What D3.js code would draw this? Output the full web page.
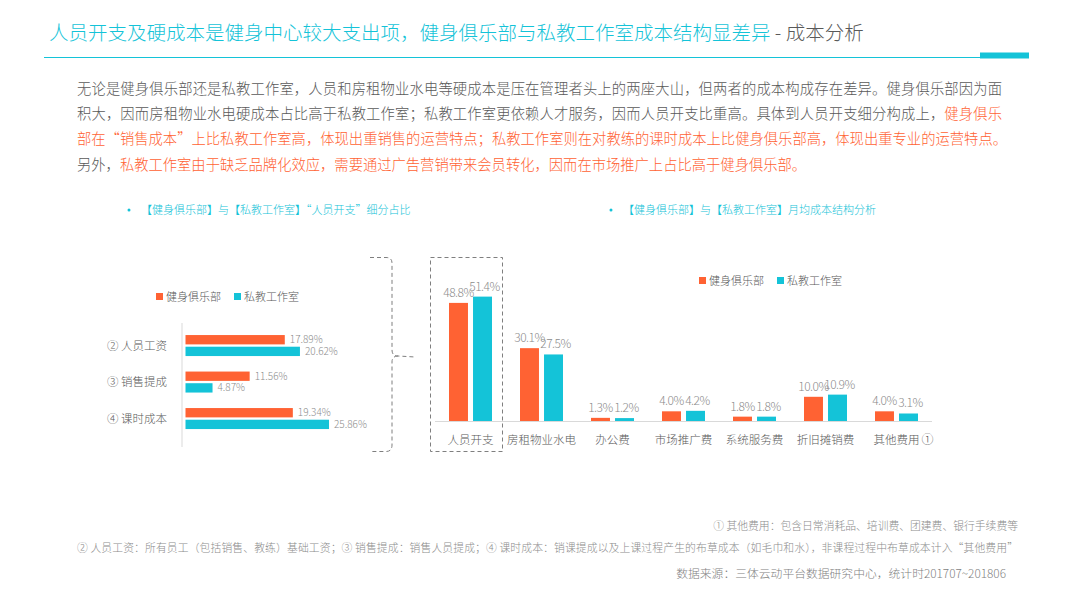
<!DOCTYPE html>
<html>
<head>
<meta charset="utf-8">
<script src="https://cdn.jsdelivr.net/npm/d3@7"></script>
<style>
  body { margin: 0; background: #fff; }
  svg { display: block; font-family: "Noto Sans CJK SC", "Noto Sans", sans-serif; font-weight: 300; }
</style>
</head>
<body>
<svg id="chart" width="1080" height="602"></svg>
<script>
// data
var seriesNames = ["健身俱乐部", "私教工作室"];
var staffCats = ["人员工资", "销售提成", "课时成本"];
var staffMarks = ["②", "③", "④"];
var clubStaff = [17.89, 11.56, 19.34];
var studioStaff = [20.62, 4.87, 25.86];

var costCats = ["人员开支", "房租物业水电", "办公费", "市场推广费", "系统服务费", "折旧摊销费", "其他费用"];
var clubCost = [48.8, 30.1, 1.3, 4.0, 1.8, 10.0, 4.0];
var studioCost = [51.4, 27.5, 1.2, 4.2, 1.8, 10.9, 3.1];

var ORANGE = "#ff6233", CYAN = "#14c3d8", GRAY = "#595959", LIGHT = "#8c8c8c";
var colors = [ORANGE, CYAN];

var svg = d3.select("#chart");

// ---- header
var title = svg.append("text").attr("x", 49).attr("y", 40).style("font-size", "19.5px");
title.append("tspan").attr("fill", CYAN)
  .text("人员开支及硬成本是健身中心较大支出项，健身俱乐部与私教工作室成本结构显差异");
title.append("tspan").attr("fill", GRAY).text(" - 成本分析");

svg.append("line").attr("x1", 44).attr("x2", 982).attr("y1", 57.5).attr("y2", 57.5)
  .attr("stroke", CYAN).attr("stroke-width", 1.2);
svg.append("rect").attr("x", 980).attr("y", 52.5).attr("width", 49).attr("height", 6).attr("fill", CYAN);

// ---- paragraph (each line: list of [text, highlighted])
var para = [
  [["无论是健身俱乐部还是私教工作室，人员和房租物业水电等硬成本是压在管理者头上的两座大山，但两者的成本构成存在差异。健身俱乐部因为面", 0]],
  [["积大，因而房租物业水电硬成本占比高于私教工作室；私教工作室更依赖人才服务，因而人员开支比重高。具体到人员开支细分构成上，", 0], ["健身俱乐", 1]],
  [["部在“销售成本”上比私教工作室高，体现出重销售的运营特点；私教工作室则在对教练的课时成本上比健身俱乐部高，体现出重专业的运营特点。", 1]],
  [["另外，", 0], ["私教工作室由于缺乏品牌化效应，需要通过广告营销带来会员转化，因而在市场推广上占比高于健身俱乐部。", 1]]
];
var lineLen = [925, 925, 930, null];
para.forEach(function(line, i) {
  var t = svg.append("text").attr("x", 77).attr("y", 94 + i * 25.2).style("font-size", "14.3px");
  if (lineLen[i]) t.attr("textLength", lineLen[i]).attr("lengthAdjust", "spacing");
  line.forEach(function(seg) {
    t.append("tspan").attr("fill", seg[1] ? ORANGE : GRAY).text(seg[0]);
  });
});

// ---- sub titles
function subTitle(x, txt) {
  svg.append("circle").attr("cx", x).attr("cy", 210).attr("r", 1.5).attr("fill", CYAN);
  svg.append("text").attr("x", x + 12).attr("y", 214).attr("fill", CYAN)
    .style("font-size", "11px").text(txt);
}
subTitle(129, "【健身俱乐部】与【私教工作室】“人员开支”细分占比");
subTitle(611, "【健身俱乐部】与【私教工作室】月均成本结构分析");

function legend(x, y, gap) {
  seriesNames.forEach(function(n, i) {
    var g = svg.append("g").attr("transform", "translate(" + (x + i * gap) + "," + y + ")");
    g.append("rect").attr("x", 0).attr("y", -4).attr("width", 7).attr("height", 7).attr("fill", colors[i]);
    g.append("text").attr("x", 10).attr("y", 4).attr("fill", GRAY).style("font-size", "11px").text(n);
  });
}

// ---- left chart: horizontal bars
var staffData = staffCats.map(function(c, i) {
  return { cat: c, mark: staffMarks[i], vals: [clubStaff[i], studioStaff[i]] };
});
var xL = d3.scaleLinear().domain([0, 30]).range([185.5, 352]);
var yL = d3.scaleBand().domain(staffCats).range([327.3, 436.8]);
var ySub = d3.scaleBand().domain(seriesNames).range([-10.5, 10.5]).paddingInner(0.2);

legend(156, 297, 78);

svg.append("line").attr("x1", 182).attr("x2", 182).attr("y1", 323).attr("y2", 447)
  .attr("stroke", "#d9d9d9");

var gL = svg.selectAll(".staff").data(staffData).enter().append("g")
  .attr("transform", function(d) { return "translate(0," + (yL(d.cat) + yL.bandwidth() / 2) + ")"; });

gL.append("text").attr("x", 167).attr("y", 4).attr("text-anchor", "end")
  .attr("fill", GRAY).style("font-size", "11.5px")
  .text(function(d) { return d.mark + "  " + d.cat; });

gL.selectAll("rect").data(function(d) { return d.vals; }).enter().append("rect")
  .attr("x", xL(0))
  .attr("y", function(v, i) { return ySub(seriesNames[i]); })
  .attr("height", ySub.bandwidth())
  .attr("width", function(v) { return xL(v) - xL(0); })
  .attr("fill", function(v, i) { return colors[i]; });

gL.selectAll(".val").data(function(d) { return d.vals; }).enter().append("text")
  .attr("x", function(v) { return xL(v) + 5; })
  .attr("y", function(v, i) { return ySub(seriesNames[i]) + ySub.bandwidth() / 2 + 3.5; })
  .attr("fill", LIGHT).style("font-size", "10px")
  .text(function(v) { return v.toFixed(2) + "%"; });

// ---- brace joining the two charts
svg.append("path")
  .attr("d", "M370,257.5 H386 Q392,257.5 392,263 V350 Q392,356 398,356 L415,357 M398,356 Q392,356 392,362 V445 Q392,451.5 386,451.5 H370")
  .attr("fill", "none").attr("stroke", "#7f7f7f").attr("stroke-width", 1).attr("stroke-dasharray", "4,3");

// ---- right chart: grouped columns
var x = d3.scaleBand().domain(costCats).range([435, 932]);
var xSub = d3.scaleBand().domain(seriesNames).range([-21.5, 21.5]).paddingInner(0.21);
var y = d3.scaleLinear().domain([0, 60]).range([421, 275.8]);

var costData = costCats.map(function(c, i) {
  return { cat: c, vals: [clubCost[i], studioCost[i]] };
});

legend(699, 281, 78);

svg.append("line").attr("x1", 435).attr("x2", 932).attr("y1", y(0) + 0.5).attr("y2", y(0) + 0.5)
  .attr("stroke", "#d9d9d9").attr("stroke-width", 1.2);

var gR = svg.selectAll(".cost").data(costData).enter().append("g")
  .attr("transform", function(d) { return "translate(" + (x(d.cat) + x.bandwidth() / 2) + ",0)"; });

gR.selectAll("rect").data(function(d) { return d.vals; }).enter().append("rect")
  .attr("x", function(v, i) { return xSub(seriesNames[i]); })
  .attr("width", xSub.bandwidth())
  .attr("y", function(v) { return y(v); })
  .attr("height", function(v) { return y(0) - y(v); })
  .attr("fill", function(v, i) { return colors[i]; });

gR.selectAll(".val").data(function(d) { return d.vals; }).enter().append("text")
  .attr("x", function(v, i) { return xSub(seriesNames[i]) + xSub.bandwidth() / 2 + i * 2; })
  .attr("y", function(v) { return y(v) - 6; })
  .attr("text-anchor", "middle").attr("fill", LIGHT)
  .style("font-size", "12px").style("letter-spacing", "-0.5px")
  .text(function(v) { return v.toFixed(1) + "%"; });

gR.append("text").attr("y", 444).attr("text-anchor", "middle")
  .attr("fill", GRAY).style("font-size", "11.5px")
  .text(function(d) { return d.cat; });

svg.append("text").attr("x", x(costCats[6]) + x.bandwidth() / 2 + 25).attr("y", 444)
  .attr("fill", GRAY).style("font-size", "12px").text("①");

// dashed frame round the first column
var fx = x(costCats[0]);
svg.append("rect").attr("x", fx - 4.5).attr("y", 257.5).attr("width", x.bandwidth() + 1).attr("height", 194)
  .attr("fill", "none").attr("stroke", "#7f7f7f").attr("stroke-dasharray", "4,3");

// ---- footnotes
svg.append("text").attr("x", 1018).attr("y", 530).attr("text-anchor", "end")
  .attr("fill", LIGHT).style("font-size", "10.8px")
  .text("① 其他费用：包含日常消耗品、培训费、团建费、银行手续费等");
svg.append("text").attr("x", 77).attr("y", 552).attr("textLength", 941).attr("lengthAdjust", "spacing")
  .attr("fill", LIGHT).style("font-size", "10.8px")
  .text("② 人员工资：所有员工（包括销售、教练）基础工资；③ 销售提成：销售人员提成；④ 课时成本：销课提成以及上课过程产生的布草成本（如毛巾和水），非课程过程中布草成本计入“其他费用”");
svg.append("text").attr("x", 1006).attr("y", 578).attr("text-anchor", "end")
  .attr("fill", "#7f7f7f").style("font-size", "11.8px")
  .text("数据来源：三体云动平台数据研究中心，统计时201707~201806");
</script>
</body>
</html>
